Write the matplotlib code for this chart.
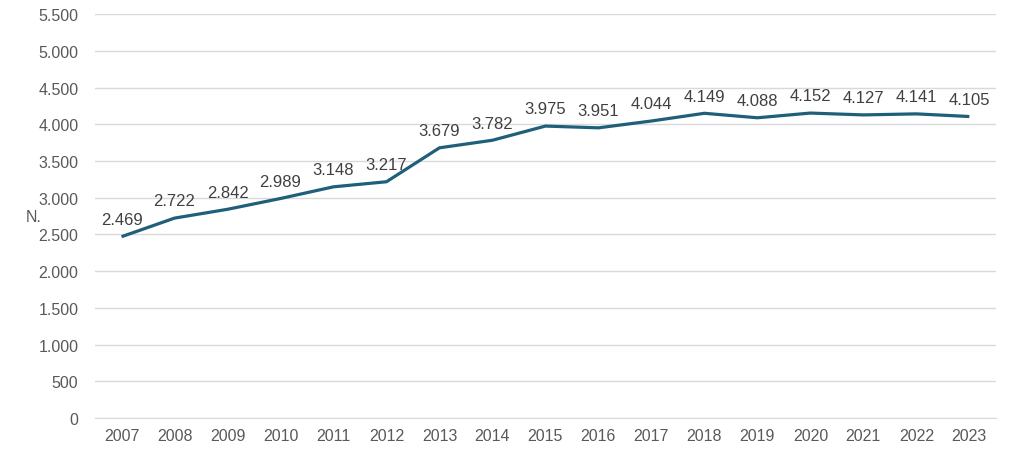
import matplotlib.pyplot as plt
from matplotlib.ticker import FuncFormatter

years = ['2007', '2008', '2009', '2010', '2011', '2012', '2013', '2014', '2015',
         '2016', '2017', '2018', '2019', '2020', '2021', '2022', '2023']
values = [2469, 2722, 2842, 2989, 3148, 3217, 3679, 3782, 3975,
          3951, 4044, 4149, 4088, 4152, 4127, 4141, 4105]

def fmt(v):
    return f"{int(v):,}".replace(',', '.')

plt.rcParams['font.family'] = ['Liberation Sans', 'DejaVu Sans']

fig = plt.figure(figsize=(10.11, 4.56), dpi=100)
ax = fig.add_axes([0.094, 0.081, 0.891, 0.886])

x = list(range(len(years)))
ax.plot(x, values, color='#1F5F7A', linewidth=2.3, solid_capstyle='butt')

for xi, v in zip(x, values):
    ax.annotate(fmt(v), (xi, v), xytext=(0, 7), textcoords='offset points',
                ha='center', va='bottom', fontsize=12, color='#404040')

ax.set_xlim(-0.5, len(years) - 0.5)
ax.set_ylim(0, 5500)
ax.set_yticks(range(0, 5501, 500))
ax.yaxis.set_major_formatter(FuncFormatter(lambda v, p: fmt(v)))
ax.set_xticks(x)
ax.set_xticklabels(years)

ax.grid(axis='y', color='#D9D9D9', linewidth=1)
ax.set_axisbelow(True)
for s in ['top', 'right', 'left']:
    ax.spines[s].set_visible(False)
ax.spines['bottom'].set_color('#D9D9D9')
ax.tick_params(axis='both', length=0, labelsize=11.5, labelcolor='#595959')
ax.tick_params(axis='x', pad=7)
ax.tick_params(axis='y', pad=12)

ax.set_ylabel('N.', rotation=0, fontsize=11.5, color='#595959')
ax.yaxis.set_label_coords(-0.068, 0.48)

fig.savefig('out.png', dpi=100)
